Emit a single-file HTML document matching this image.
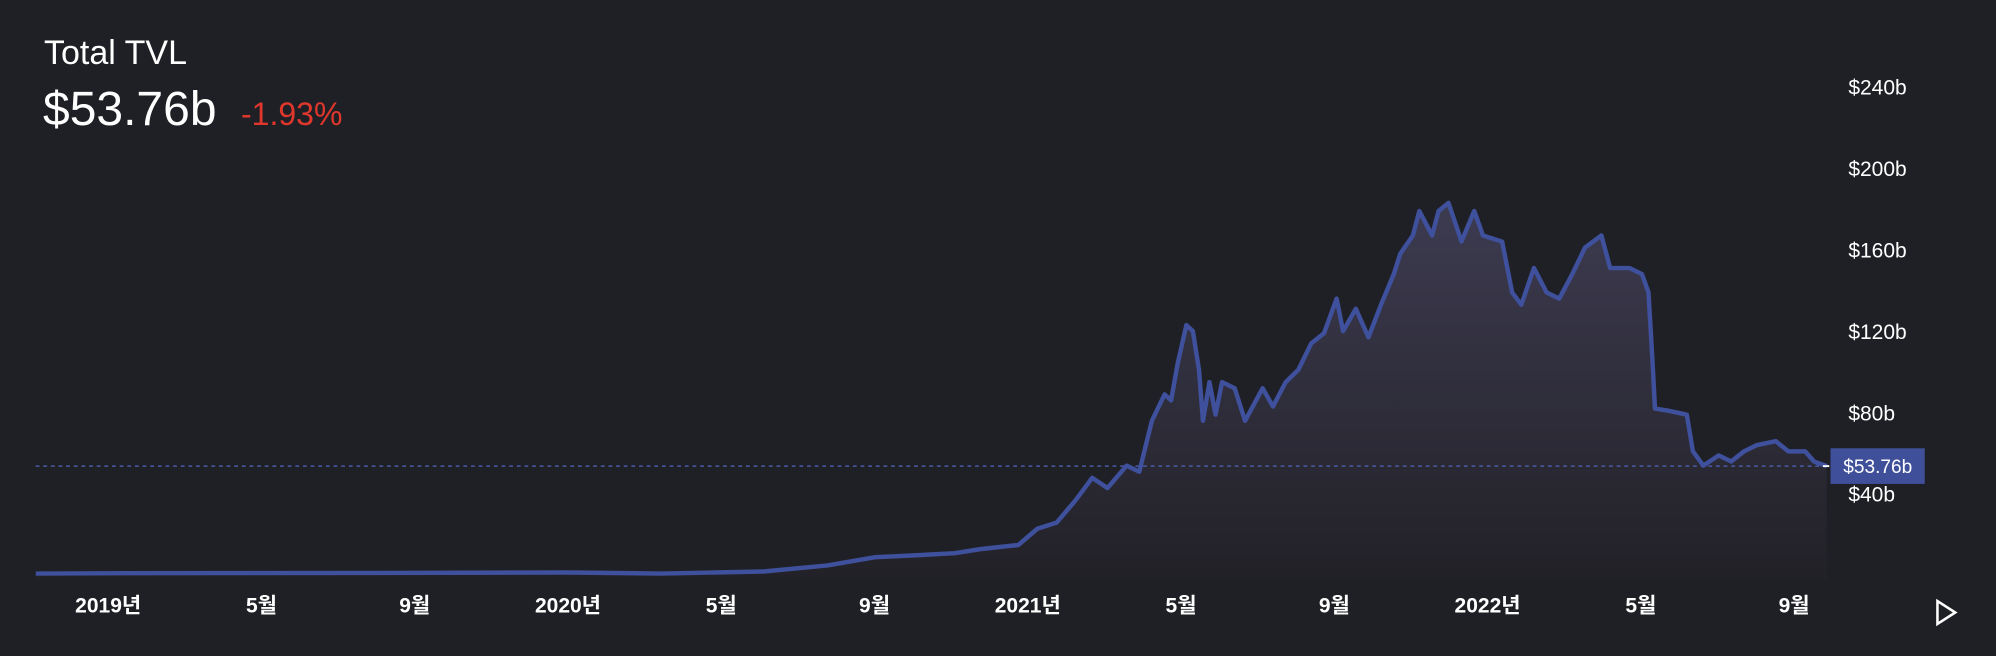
<!DOCTYPE html>
<html><head><meta charset="utf-8"><style>
body{margin:0;width:1996px;height:656px;background:#1f2026;overflow:hidden;font-family:"Liberation Sans","Noto Sans CJK KR",sans-serif;color:#fff}
div{line-height:1;white-space:nowrap}
#title{position:absolute;left:44px;top:36px;font-size:34px}
#value{position:absolute;left:43px;top:86px;font-size:48px}
#chg{position:absolute;left:241px;top:98px;font-size:32px;color:#e0372c}
svg{position:absolute;left:0;top:0}
</style></head><body>
<div id="title">Total TVL</div>
<div id="value">$53.76b</div>
<div id="chg">-1.93%</div>
<svg id="c" width="1996" height="656" viewBox="0 0 1568 515"></svg>
<script>
const months=[-1.89,0.5,7.14,12.0,14.45,17.1,18.77,20.0,21.1,22.09,22.76,23.75,24.25,24.75,25.25,25.68,26.08,26.58,26.91,27.24,27.57,27.74,27.91,28.14,28.31,28.47,28.57,28.74,28.9,29.07,29.4,29.67,30.13,30.4,30.73,31.06,31.4,31.73,32.06,32.23,32.56,32.89,33.22,33.55,33.72,34.05,34.22,34.55,34.72,34.98,35.32,35.65,35.88,36.38,36.64,36.88,37.21,37.54,37.87,38.21,38.54,38.97,39.2,39.7,40.03,40.2,40.3,40.37,40.7,41.2,41.36,41.63,42.03,42.36,42.69,43.02,43.52,43.85,44.29,44.52,44.85];
const tvl=[1,1.2,1.3,1.5,1,2,5,9,10,11,13,15,23,26,37,48,43,54,51,76,89,86,104,123,120,101,76,95,79,95,92,76,92,83,95,101,114,119,136,120,131,117,133,148,158,167,179,167,179,183,164,179,167,164,139,133,151,139,136,148,161,167,151,151,148,139,107,82,81,79,61,54,59,56,61,64,66,61,61,56,53.76];
const yTicks=[40,80,120,160,200,240];
const xLabels=["2019년","5월","9월","2020년","5월","9월","2021년","5월","9월","2022년","5월","9월"];
const xLabelMonths=[0,4,8,12,16,20,24,28,32,36,40,44];
const current=53.76;
const X=m=>85+m*30.1, Y=v=>452-v*1.6;
const svg=document.getElementById('c'),NS="http://www.w3.org/2000/svg";
function mk(t,a){const e=document.createElementNS(NS,t);for(const k in a)e.setAttribute(k,a[k]);svg.appendChild(e);return e;}
const defs=mk('defs',{});
defs.innerHTML='<linearGradient id="g" x1="0" y1="0" x2="0" y2="1"><stop offset="0" stop-color="#3d3b50"/><stop offset="1" stop-color="#222127"/></linearGradient>';
let d=months.map((m,i)=>(i?'L':'M')+X(m).toFixed(1)+' '+Y(tvl[i]).toFixed(1)).join(' ');
const area=mk('path',{d:d+` L${X(months[months.length-1])} 455 L${X(months[0])} 455 Z`,fill:'url(#g)'});


const cy=Y(current);
const dl=mk('line',{x1:28,x2:1436,y1:cy,y2:cy,stroke:'#4a5aa8','stroke-width':1.2,'stroke-dasharray':'3 3'});


const ln=mk('path',{d:d,fill:'none',stroke:'#3f509c','stroke-width':3.5,'stroke-linejoin':'round'});


yTicks.forEach(v=>{const t=mk('text',{x:1452,y:Y(v)+6,fill:'#fff','font-size':16.5,'font-family':'Liberation Sans, sans-serif'});t.textContent='$'+v+'b';

});
xLabels.forEach((s,i)=>{const t=mk('text',{x:X(xLabelMonths[i]),y:481,fill:'#fff','font-size':16.5,'text-anchor':'middle','font-weight':'bold','font-family':'Liberation Sans, Noto Sans CJK KR, sans-serif'});t.textContent=s;

});
const tag=mk('rect',{x:1438,y:cy-14,width:74,height:28,fill:'#3f4f9a'});


mk('line',{x1:1432,x2:1437,y1:cy,y2:cy,stroke:'#fff','stroke-width':1.5});
const tt=mk('text',{x:1448,y:cy+5.5,fill:'#fff','font-size':15,'font-family':'Liberation Sans, sans-serif'});tt.textContent='$'+current.toFixed(2)+'b';


const pb=mk('path',{d:'M1522 472 L1536 481 L1522 490 Z',fill:'none',stroke:'#fff','stroke-width':2,'stroke-linejoin':'miter'});


</script>
</body></html>
